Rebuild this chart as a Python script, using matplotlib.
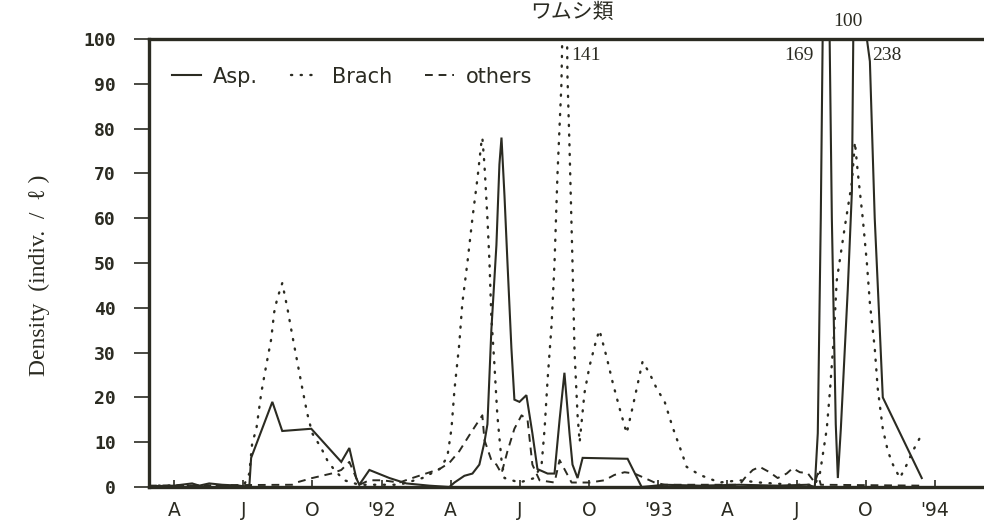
import matplotlib
matplotlib.use("Agg")
import matplotlib.pyplot as plt

# x = months since Jan 1991 (3 = Apr 1991, 12 = Jan 1992, ...)
asp_m = [1.91, 2.13, 3.00, 3.78, 4.09, 4.52, 5.08, 5.82, 6.26, 6.34, 7.26, 7.69, 8.95, 10.25,
         10.60, 10.90, 11.03, 11.47, 12.34, 13.07, 14.07, 14.94, 15.16, 15.59, 15.94, 16.24,
         16.46, 16.59, 16.76, 16.98, 17.11, 17.20, 17.33, 17.46, 17.63, 17.76, 17.98, 18.28,
         18.54, 18.76, 19.20, 19.50, 19.72, 19.93, 20.15, 20.28, 20.50, 20.72, 22.67, 23.28,
         24.28, 25.80, 27.53, 29.18, 30.48, 30.79, 30.92, 31.05, 31.27, 31.53, 31.70, 31.79,
         31.92, 32.22, 32.40, 32.70, 33.05, 33.18, 33.39, 33.61, 33.74, 35.43]
asp_v = [0, 0.2, 0.3, 0.8, 0.3, 0.8, 0.5, 0.3, 0, 6.5, 19, 12.5, 13, 5.6,
         8.7, 2, 0.5, 3.8, 2, 0.8, 0.3, 0, 1, 2.5, 3, 5,
         10, 14, 35, 54, 72, 78, 65, 50, 31, 19.5, 19, 20.5,
         12, 4, 3, 3, 15, 25.5, 12, 5, 2, 6.5, 6.3, 0,
         0.5, 0.3, 0.5, 0.3, 0.5, 0, 12, 60, 169, 60, 14, 2,
         13, 44, 66, 238, 100, 95, 60, 35, 20, 2]

brach_m = [1.91, 5.82, 6.04, 6.26, 6.39, 6.56, 6.78, 6.99, 7.21, 7.34, 7.47, 7.69, 7.91, 8.12,
           8.34, 8.56, 8.77, 8.99, 9.38, 9.64, 9.95, 10.38, 11.03, 12.77, 13.77, 14.51, 14.85,
           15.03, 15.16, 15.37, 15.50, 15.72, 15.94, 16.16, 16.33, 16.37, 16.46, 16.59, 16.68,
           16.76, 16.89, 17.02, 17.20, 17.33, 17.98, 18.63, 18.94, 19.07, 19.20, 19.37, 19.50,
           19.63, 19.80, 19.98, 20.06, 20.15, 20.28, 20.37, 20.50, 20.59, 20.80, 21.02, 21.32,
           21.45, 21.76, 22.02, 22.32, 22.63, 22.84, 23.10, 23.32, 23.62, 23.93, 24.28, 24.62,
           25.01, 25.23, 25.80, 26.66, 27.53, 28.40, 29.83, 30.79, 31.01, 31.09, 31.31, 31.44,
           31.61, 31.74, 32.09, 32.40, 32.53, 32.66, 32.87, 33.05, 33.18, 33.39, 33.52, 33.74,
           33.96, 34.18, 34.48, 34.78, 35.04, 35.35]
brach_v = [0.3, 0.3, 0.5, 3, 10, 12.7, 21, 27, 33, 39, 42, 45.5, 40, 34,
           28, 22, 16.5, 12, 8.7, 6, 3.8, 1.5, 0.5, 0.5, 2, 4, 6.7,
           13, 21.7, 32, 41, 50, 60, 69, 77, 78, 72, 60, 50,
           38, 27.6, 16, 6, 2, 1, 2, 5, 13, 24, 36, 50,
           70, 90, 141, 92, 76, 50, 30, 16, 10, 21, 27, 33,
           35, 29, 23.4, 17.6, 12, 16.7, 22.8, 28, 25.4, 22, 19, 13.4,
           7.8, 4.5, 2.7, 1, 1.5, 1, 0.5, 0.5, 3, 5.6, 13, 21,
           33, 46, 58, 68, 77, 70, 60, 50, 41, 31, 22, 13,
           8, 5, 2, 5, 8, 11]

others_m = [1.91, 8.12, 8.30, 8.99, 9.82, 10.25, 10.60, 10.90, 11.03, 11.47, 12.03, 12.77, 13.33,
            14.51, 14.94, 15.37, 15.81, 16.24, 16.37, 16.46, 16.76, 16.98, 17.20, 17.46, 17.76,
            18.07, 18.33, 18.54, 18.85, 19.50, 19.72, 19.93, 20.24, 21.02, 21.67, 22.10, 22.54,
            22.97, 23.41, 23.84, 24.28, 27.53, 27.75, 28.10, 28.40, 28.83, 29.18, 29.57, 29.83,
            30.14, 30.48, 30.79, 30.92, 31.05, 35.43]
others_v = [0.3, 0.5, 1, 2, 3, 3.8, 5.6, 2, 0.5, 1.5, 1.5, 1, 2,
            4, 5.4, 8, 11.6, 15, 16, 10.5, 6, 5, 3, 8, 13,
            16, 15, 5, 1.5, 1, 6, 4, 1, 1, 1.5, 2.7, 3.3,
            3, 2, 1, 0.5, 0.5, 2, 3.8, 4.5, 3.3, 2, 3, 4.2,
            3.3, 3.1, 1, 3, 0.5, 0.3]

tick_pos = [3, 6, 9, 12, 15, 18, 21, 24, 27, 30, 33, 36]
tick_lab = ["A", "J", "O", "'92", "A", "J", "O", "'93", "A", "J", "O", "'94"]
y_ticks = list(range(0, 101, 10))

peak_labels = [("141", 20.24, 96.4, "left"), ("169", 30.75, 96.4, "right"),
               ("238", 33.27, 96.4, "left"), ("100", 32.22, 104.0, "center")]

ink = "#2b2b22"

fig = plt.figure(figsize=(9.84, 5.30), dpi=100)
ax = fig.add_axes([149 / 984, 1 - 487 / 530, 1 - 149 / 984, (487 - 39) / 530])

ax.plot(asp_m, asp_v, color=ink, lw=1.5, solid_joinstyle="miter", label="Asp.")
ax.plot(brach_m, brach_v, color=ink, lw=1.7, linestyle=(0, (0.5, 3.6)),
        dash_capstyle="round", label="Brach")
ax.plot(others_m, others_v, color=ink, lw=1.4, linestyle=(0, (4, 3)), label="others")

ax.set_xlim(1.91, 38.13)
ax.set_ylim(0, 100)

ax.spines["right"].set_visible(False)
for s in ["left", "bottom", "top"]:
    ax.spines[s].set_linewidth(2.4)
    ax.spines[s].set_color(ink)

ax.set_yticks(y_ticks)
ax.set_yticklabels([str(v) for v in y_ticks], family="DejaVu Sans Mono",
                   fontweight="bold", fontsize=13, color=ink)
ax.tick_params(axis="y", direction="out", length=11, width=1.2, color=ink, pad=13)

ax.set_xticks(tick_pos)
ax.set_xticklabels(tick_lab, family="DejaVu Sans", fontsize=13.5, color=ink)
ax.tick_params(axis="x", direction="in", length=5, width=1.2, color=ink, pad=10)

leg = ax.legend(loc="upper left", bbox_to_anchor=(0.005, 0.98), ncol=3, frameon=False,
                handlelength=1.4, handletextpad=0.55, columnspacing=1.6,
                prop={"family": "DejaVu Sans", "size": 15})
for t in leg.get_texts():
    t.set_color(ink)

for txt, xm, yv, ha in peak_labels:
    ax.text(xm, yv, txt, ha=ha, va="center", family="Liberation Serif",
            fontsize=14, color=ink, clip_on=False)

fig.text(0.581, 0.998, "ワムシ類", ha="center", va="top",
         family=["Noto Sans CJK JP", "DejaVu Sans"], fontsize=15, color=ink)

fig.text(0.040, 0.48, "Density  (indiv.  /  ℓ )", rotation=90, ha="center", va="center",
         family=["Liberation Serif", "DejaVu Serif"], fontsize=17, color=ink)

fig.savefig("out.png", dpi=100)
